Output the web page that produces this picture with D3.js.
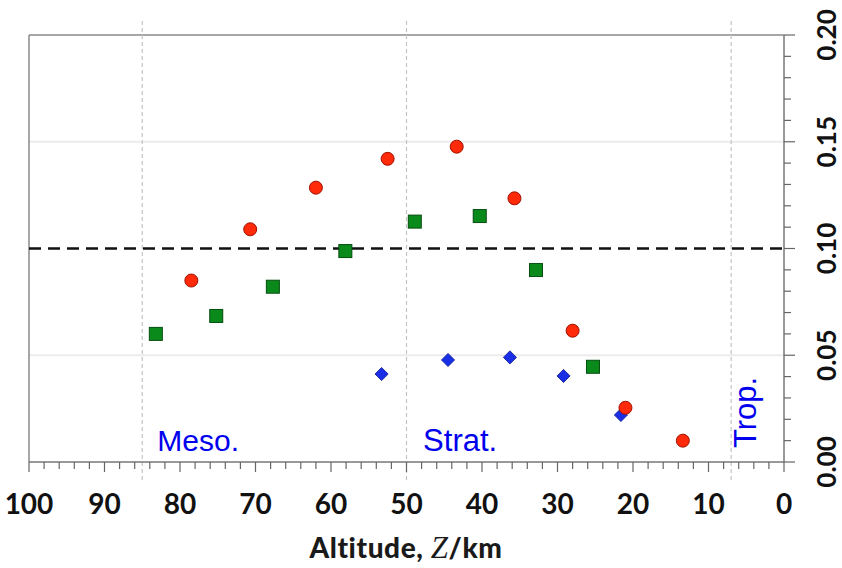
<!DOCTYPE html>
<html><head><meta charset="utf-8">
<script src="https://cdn.jsdelivr.net/npm/d3@7"></script>
<style>body{margin:0;background:#fff}svg{display:block}</style>
</head><body>
<svg id="c" width="842" height="568"></svg>
<script>
// Data (altitude km, value)
const redAlt   = [78.5, 70.7, 62.0, 52.5, 43.35, 35.7, 28.0, 21.0, 13.4];
const redVal   = [0.085, 0.109, 0.1285, 0.142, 0.1477, 0.1235, 0.0615, 0.0254, 0.010];
const greenAlt = [83.2, 75.2, 67.7, 58.1, 48.9, 40.3, 32.85, 25.3];
const greenVal = [0.060, 0.0684, 0.0821, 0.0988, 0.1126, 0.1152, 0.0899, 0.0446];
const blueAlt  = [53.3, 44.5, 36.3, 29.2, 21.6];
const blueVal  = [0.0412, 0.0478, 0.049, 0.0403, 0.022];
const xTicks = [100, 90, 80, 70, 60, 50, 40, 30, 20, 10, 0];
const yTicks = [0.00, 0.05, 0.10, 0.15, 0.20];
const refLevel = 0.10;
const layerBounds = [85, 50, 7];
const layerLabels = ["Meso.", "Strat.", "Trop."];
const layerLabelAlt = [83, 47.8, 3.7];

const svg = d3.select("#c");
const L = 29, R = 784, T = 35, B = 462;
const x = d3.scaleLinear().domain([100, 0]).range([L, R]);
const y = d3.scaleLinear().domain([0, 0.2]).range([B, T]);

// faint horizontal lines
svg.selectAll(".faint").data([0.05, 0.15]).enter().append("line")
  .attr("x1", L).attr("x2", R).attr("y1", d => y(d)).attr("y2", d => y(d))
  .attr("stroke", "#ececec").attr("stroke-width", 2);

// frame top & left
svg.append("line").attr("x1", L).attr("x2", R).attr("y1", T).attr("y2", T).attr("stroke", "#8a8a8a").attr("stroke-width", 1.5);
svg.append("line").attr("x1", L).attr("x2", L).attr("y1", T).attr("y2", B).attr("stroke", "#8a8a8a").attr("stroke-width", 1.5);

// vertical dashed layer lines
svg.selectAll(".vb").data(layerBounds).enter().append("line")
  .attr("x1", d => x(d)).attr("x2", d => x(d)).attr("y1", 21).attr("y2", 480)
  .attr("stroke", "#c4c4c4").attr("stroke-width", 1.2).attr("stroke-dasharray", "4,3");

// reference dashed line
svg.append("line").attr("x1", L).attr("x2", R).attr("y1", y(refLevel)).attr("y2", y(refLevel))
  .attr("stroke", "#111").attr("stroke-width", 2.5).attr("stroke-dasharray", "12,7");

// bottom axis
const xMinor = d3.range(0, 101, 2);
const xa = svg.append("g").attr("transform", `translate(0,${B})`);
xa.append("line").attr("x1", L).attr("x2", R).attr("stroke", "#777").attr("stroke-width", 1.5);
xa.selectAll(".mt").data(xMinor).enter().append("line")
  .attr("x1", d => x(d)).attr("x2", d => x(d)).attr("y1", 0).attr("y2", d => d % 10 === 0 ? 10 : 7)
  .attr("stroke", "#666").attr("stroke-width", 1.2);
xa.selectAll(".tl").data(xTicks).enter().append("text")
  .attr("x", d => x(d)).attr("y", 52).attr("text-anchor", "middle")
  .attr("font-family", "Lato, sans-serif").attr("font-weight", "bold").attr("font-size", 28)
  .attr("fill", "#111").text(d => d);

// right axis
const yMinor = d3.range(0, 21).map(i => i / 100);
const ya = svg.append("g").attr("transform", `translate(${R},0)`);
ya.append("line").attr("y1", T).attr("y2", B).attr("stroke", "#777").attr("stroke-width", 1.5);
ya.selectAll(".mt").data(yMinor).enter().append("line")
  .attr("y1", d => y(d)).attr("y2", d => y(d)).attr("x1", 0).attr("x2", (d, i) => i % 5 === 0 ? 11 : 7)
  .attr("stroke", "#666").attr("stroke-width", 1.2);
ya.selectAll(".tl").data(yTicks).enter().append("text")
  .attr("transform", d => `translate(42,${y(d)}) rotate(-90)`).attr("text-anchor", "middle")
  .attr("dominant-baseline", "central")
  .attr("font-family", "Lato, sans-serif").attr("font-weight", "bold").attr("font-size", 26)
  .attr("fill", "#111").text(d => d.toFixed(2));

// axis title
const t = svg.append("text").attr("x", 406).attr("y", 558).attr("text-anchor", "middle")
  .attr("font-family", "Lato, sans-serif").attr("font-weight", "900").attr("font-size", 28)
  .attr("letter-spacing", 0.6).attr("fill", "#1a1a1a");
t.append("tspan").text("Altitude, ");
t.append("tspan").attr("font-family", "'Liberation Serif', serif").attr("font-style", "italic").attr("font-weight", "normal").attr("font-size", 31).text("Z");
t.append("tspan").text("/km");

// layer labels
const lblFont = "'Liberation Sans', Arial, sans-serif";
svg.append("text").attr("x", x(layerLabelAlt[0])).attr("y", 451).attr("font-family", lblFont)
  .attr("font-size", 30).attr("fill", "#0000ee").text(layerLabels[0]);
svg.append("text").attr("x", x(layerLabelAlt[1])).attr("y", 451).attr("font-family", lblFont)
  .attr("font-size", 31).attr("fill", "#0000ee").text(layerLabels[1]);
svg.append("text").attr("transform", `translate(${x(layerLabelAlt[2])},448) rotate(-90)`).attr("font-family", lblFont)
  .attr("font-size", 31).attr("fill", "#0000ee").text(layerLabels[2]);

// blue diamonds
const blue = blueAlt.map((a, i) => ({a, v: blueVal[i]}));
svg.selectAll(".bd").data(blue).enter().append("path")
  .attr("d", d3.symbol().type(d3.symbolDiamond2).size(110))
  .attr("transform", d => `translate(${x(d.a)},${y(d.v)})`)
  .attr("fill", "#1a2ee6").attr("stroke", "#0a1890").attr("stroke-width", 0.8);

// green squares
const green = greenAlt.map((a, i) => ({a, v: greenVal[i]}));
svg.selectAll(".gs").data(green).enter().append("rect")
  .attr("x", d => x(d.a) - 6.5).attr("y", d => y(d.v) - 6.5).attr("width", 13).attr("height", 13)
  .attr("fill", "#0b8a1c").attr("stroke", "#064d10").attr("stroke-width", 1);

// red circles
const red = redAlt.map((a, i) => ({a, v: redVal[i]}));
svg.selectAll(".rc").data(red).enter().append("circle")
  .attr("cx", d => x(d.a)).attr("cy", d => y(d.v)).attr("r", 6.5)
  .attr("fill", "#ff2a0a").attr("stroke", "#a01000").attr("stroke-width", 1);
</script>
</body></html>
